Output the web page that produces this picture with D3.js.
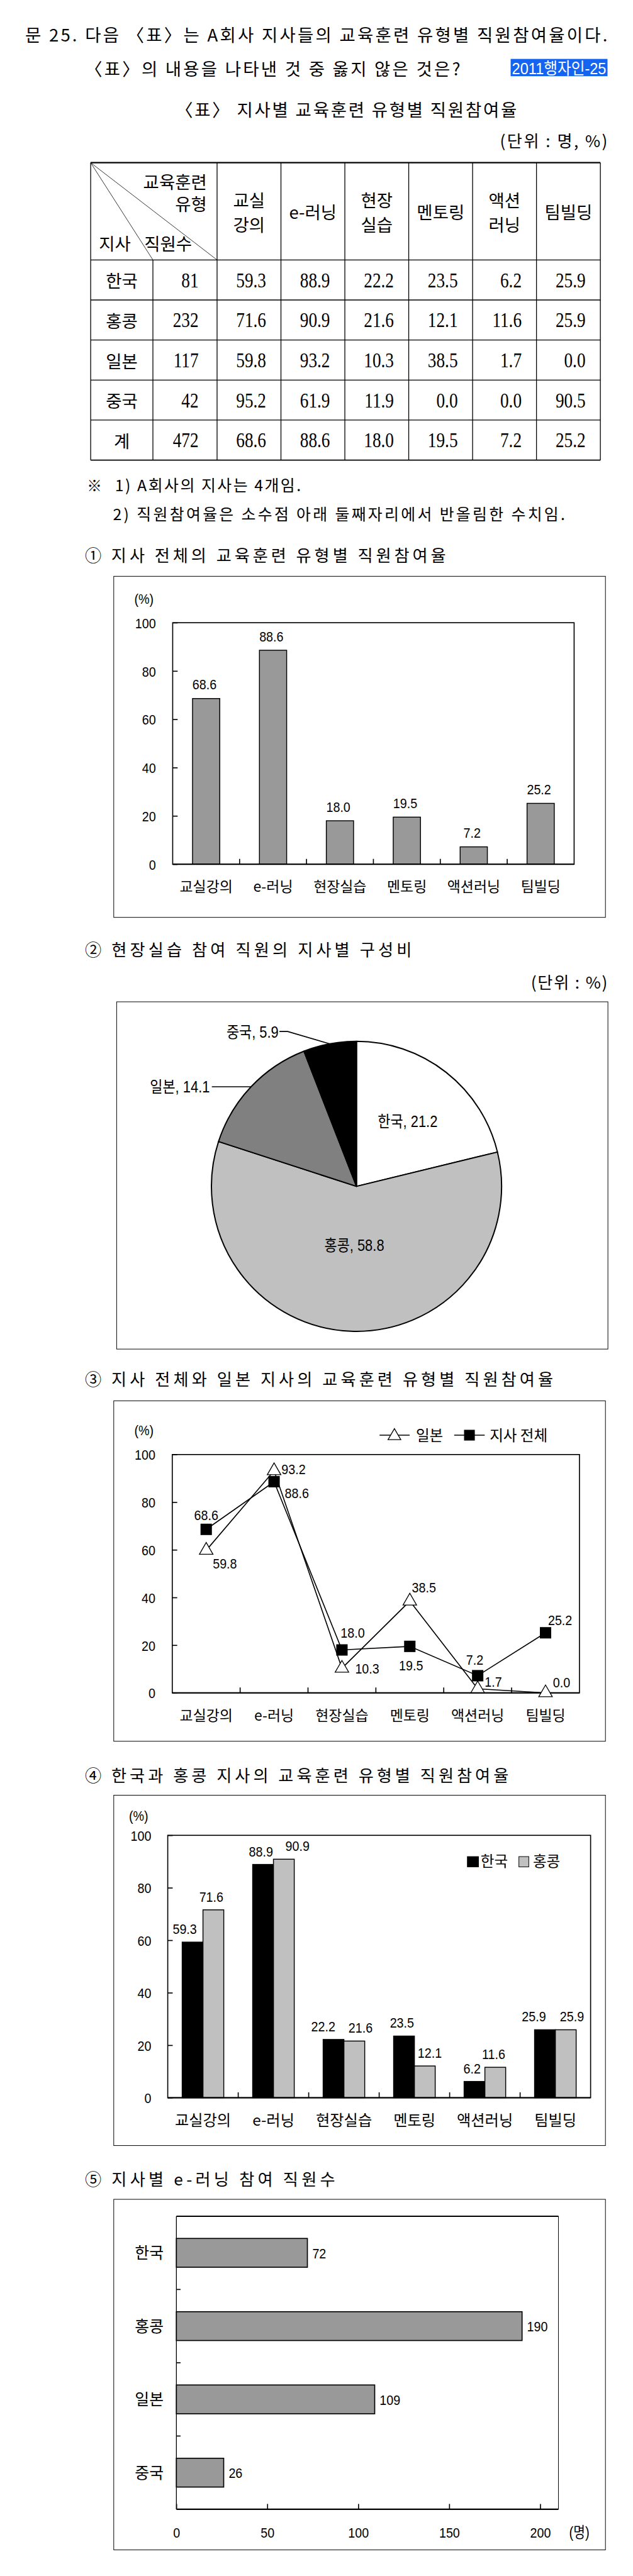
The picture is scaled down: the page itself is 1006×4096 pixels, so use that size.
<!DOCTYPE html>
<html><head><meta charset="utf-8">
<script src="https://cdn.jsdelivr.net/npm/d3@7"></script>
<style>html,body{margin:0;padding:0;background:#fff}svg{display:block}</style>
</head><body>
<script>
// ---------------- DATA ----------------
const types = ["교실강의","e-러닝","현장실습","멘토링","액션러닝","팀빌딩"];
const typeHeaders = [["교실","강의"],["e-러닝"],["현장","실습"],["멘토링"],["액션","러닝"],["팀빌딩"]];
const branches = ["한국","홍콩","일본","중국"];
const staffCounts = [81,232,117,42];
const rateKorea = [59.3,88.9,22.2,23.5,6.2,25.9];
const rateHongKong = [71.6,90.9,21.6,12.1,11.6,25.9];
const rateJapan = [59.8,93.2,10.3,38.5,1.7,0.0];
const rateChina = [95.2,61.9,11.9,0.0,0.0,90.5];
const totalLabel = "계";
const staffTotal = 472;
const rateTotal = [68.6,88.6,18.0,19.5,7.2,25.2];
const fieldShare = [21.2,58.8,14.1,5.9];          // 현장실습 참여 직원 지사별 구성비
const eLearningCounts = [72,190,109,26];          // 지사별 e-러닝 참여 직원수
const pctTicks = [0,20,40,60,80,100];
const countTicks = [0,50,100,150,200];

// ---------------- LAYOUT ----------------
const S = 0.655;
const KR = '"Noto Sans CJK KR", sans-serif';
const SERIF = '"Liberation Serif", "Noto Sans CJK KR", serif';
const SANS = '"Liberation Sans", "Noto Sans CJK KR", sans-serif';

const svg = d3.select("body").append("svg").attr("width",1006).attr("height",4096);
const root = svg.append("g").attr("transform",`scale(${S})`);

function txt(p, x, y, s, o={}) {
  const sx = o.sx || 1;
  const t = p.append("text")
    .attr("transform", `translate(${x},${y})` + (sx!==1 ? ` scale(${sx},1)` : ""))
    .attr("font-family", o.family || KR)
    .attr("font-size", o.size || 36)
    .attr("text-anchor", o.anchor || "start")
    .attr("fill", o.fill || "#000")
    .text(s);
  if (o.weight) t.attr("font-weight", o.weight);
  if (o.len) t.attr("textLength", o.len/sx).attr("lengthAdjust", o.adjust || "spacing");
  return t;
}
function line(p, x1, y1, x2, y2, w) {
  return p.append("line").attr("x1",x1).attr("y1",y1).attr("x2",x2).attr("y2",y2)
    .attr("stroke","#000").attr("stroke-width",w||2);
}
function box(p, x, y, w, h, sw) {
  return p.append("rect").attr("x",x).attr("y",y).attr("width",w).attr("height",h)
    .attr("fill","none").attr("stroke","#000").attr("stroke-width",sw||1.5);
}
function yAxisPct(g, scale, x0, pad, size, sx) {
  const ax = g.append("g").attr("transform",`translate(${x0},0)`)
    .call(d3.axisLeft(scale).tickValues(pctTicks).tickSizeInner(-12).tickSizeOuter(0).tickPadding(pad));
  ax.select(".domain").remove();
  ax.selectAll("line").attr("stroke","#000").attr("stroke-width",2.5);
  ax.selectAll("text").attr("font-family",SANS).attr("font-size",size).attr("fill","#000")
    .attr("transform",`scale(${sx},1)`).attr("x",-pad/sx).attr("dy","0.36em");
  return ax;
}
function xAxisCat(g, scale, y0, labelY, size) {
  const ax = g.append("g").attr("transform",`translate(0,${y0})`)
    .call(d3.axisBottom(scale).tickSizeInner(0).tickSizeOuter(0));
  ax.select(".domain").remove();
  ax.selectAll("text").attr("font-family",KR).attr("font-size",size).attr("fill","#000")
    .attr("y",labelY).attr("dy",null);
  // boundary ticks between categories
  const step = scale.step(), pi = scale.paddingInner();
  scale.domain().slice(1).forEach(d => {
    const bx = scale(d) - step*pi/2;
    line(g, bx, y0, bx, y0-13, 2.5);
  });
  return ax;
}

// ---------------- HEADER ----------------
txt(root, 61, 100, "문 25. 다음 〈표〉는 A회사 지사들의 교육훈련 유형별 직원참여율이다.", {size:42, len:1413});
txt(root, 206, 183, "〈표〉의 내용을 나타낸 것 중 옳지 않은 것은?", {size:42, len:911});
root.append("rect").attr("x",1239).attr("y",143).attr("width",235).attr("height",42).attr("fill","#1464f0");
txt(root, 1242, 180, "2011행자인-25", {size:40, fill:"#fff", family:SANS, len:229, adjust:"spacingAndGlyphs"});
txt(root, 426, 283, "〈표〉 지사별 교육훈련 유형별 직원참여율", {size:42, len:828});
txt(root, 1474, 358, "(단위 : 명, %)", {size:40, anchor:"end", len:261});

// ---------------- TABLE ----------------
const tbl = root.append("g");
const tLeft = 220, tSub = 371, tData0 = 526.7, colW = 155;
const tTop = 395, tHead = 631, rowH = 97.2;
const tRight = tData0 + colW*types.length;
const rows = branches.map((b,i)=>({name:b, staff:staffCounts[i], rates:[rateKorea,rateHongKong,rateJapan,rateChina][i]}))
  .concat([{name:totalLabel, staff:staffTotal, rates:rateTotal}]);
const tBottom = tHead + rowH*rows.length;
// horizontal lines
line(tbl, tLeft, tTop, tRight, tTop, 3.5);
rows.forEach((r,i)=>{ line(tbl, tLeft, tHead+rowH*i, tRight, tHead+rowH*i, 2); });
line(tbl, tLeft, tBottom, tRight, tBottom, 3);
// vertical lines
line(tbl, tLeft, tTop, tLeft, tBottom, 2);
line(tbl, tSub, tHead, tSub, tBottom, 2);
for (let k=0;k<=types.length;k++) line(tbl, tData0+colW*k, tTop, tData0+colW*k, tBottom, 2);
// diagonals
line(tbl, tLeft, tTop, tSub, tHead, 1.2);
line(tbl, tLeft, tTop, tData0, tHead, 1.2);
txt(tbl, 502, 458, "교육훈련", {size:42, anchor:"end"});
txt(tbl, 502, 511, "유형", {size:42, anchor:"end"});
txt(tbl, 240, 608, "지사", {size:42});
txt(tbl, 350, 608, "직원수", {size:42});
typeHeaders.forEach((h,k)=>{
  const cx = tData0 + colW*k + colW/2;
  if (h.length===2) { txt(tbl, cx, 503, h[0], {size:42, anchor:"middle"}); txt(tbl, cx, 562, h[1], {size:42, anchor:"middle"}); }
  else txt(tbl, cx, 532, h[0], {size:42, anchor:"middle", family: SERIF.replace('"Liberation Serif", ','') });
});
rows.forEach((r,i)=>{
  const by = tHead + rowH*i + 66;
  txt(tbl, (tLeft+tSub)/2, by+1, r.name, {size:42, anchor:"middle"});
  txt(tbl, tData0-45, by, String(r.staff), {size:52, anchor:"end", family:SERIF, sx:0.8});
  r.rates.forEach((v,k)=>{
    txt(tbl, tData0+colW*(k+1)-36, by, v.toFixed(1), {size:52, anchor:"end", family:SERIF, sx:0.8});
  });
});

// notes
txt(root, 211, 1193, "※", {size:36});
txt(root, 279, 1193, "1) A회사의 지사는 4개임.", {size:38, len:451});
txt(root, 274, 1262, "2) 직원참여율은 소수점 아래 둘째자리에서 반올림한 수치임.", {size:38, len:1097});

// ---------------- CHART 1 ----------------
txt(root, 206, 1363, "① 지사 전체의 교육훈련 유형별 직원참여율", {size:40, len:876});
{
  const g = root.append("g");
  box(g, 276, 1399, 1193, 828, 1.5);
  const x = d3.scaleBand().domain(types).range([419,1393]).paddingInner(0.593).paddingOuter(0.2966);
  const y = d3.scaleLinear().domain([0,100]).range([2098,1511.7]);
  g.selectAll("rect.bar").data(rateTotal).join("rect").attr("class","bar")
    .attr("x",(d,i)=>x(types[i])).attr("y",d=>y(d)).attr("width",x.bandwidth()).attr("height",d=>y(0)-y(d))
    .attr("fill","#999999").attr("stroke","#000").attr("stroke-width",2.2);
  g.append("rect").attr("x",419).attr("y",y(100)).attr("width",1393-419).attr("height",y(0)-y(100))
    .attr("fill","none").attr("stroke","#000").attr("stroke-width",2.5);
  line(g, 419, y(0), 1393, y(0), 3);
  yAxisPct(g, y, 419, 41, 35, 0.86);
  xAxisCat(g, x, y(0), 67, 35);
  rateTotal.forEach((v,i)=>{
    txt(g, x(types[i])+x.bandwidth()/2-4, y(v)-22, v.toFixed(1), {size:35, anchor:"middle", family:SANS, sx:0.86});
  });
  txt(g, 326, 1466, "(%)", {size:35, family:SANS, sx:0.86});
}

// ---------------- CHART 2 (pie) ----------------
txt(root, 206, 2320, "② 현장실습 참여 직원의 지사별 구성비", {size:40, len:793});
txt(root, 1474, 2400, "(단위 : %)", {size:40, anchor:"end", len:186});
{
  const g = root.append("g");
  box(g, 283, 2432, 1192, 843, 1.5);
  const R = 352, cx = 865, cy = 2880;
  const pg = g.append("g").attr("transform",`translate(${cx},${cy})`);
  const pieColors = ["#ffffff","#c0c0c0","#808080","#000000"];
  const arcs = d3.pie().sort(null).value(d=>d)(fieldShare);
  const arc = d3.arc().innerRadius(0).outerRadius(R);
  pg.selectAll("path.slice").data(arcs).join("path").attr("class","slice")
    .attr("d",arc).attr("fill",(d,i)=>pieColors[i]).attr("stroke","#000").attr("stroke-width",3).attr("stroke-linejoin","round");
  const labOpt = {size:38, family:SANS, sx:0.88};
  // inside labels
  const insideK = [0.57, 0.41];
  [0,1].forEach(i=>{
    const la = d3.arc().innerRadius(R*insideK[i]).outerRadius(R*insideK[i]);
    const [lx,ly] = la.centroid(arcs[i]);
    txt(pg, lx, ly+13, `${branches[i]}, ${fieldShare[i].toFixed(1)}`, Object.assign({anchor:"middle"},labOpt));
  });
  // outside labels with leaders
  const edge = d3.arc().innerRadius(R).outerRadius(R);
  const outside = [{i:2, elbow:[-351,null], end:[-351,null], tx:-356, dy:14},
                   {i:3, elbow:[-167,-376], end:[-187,-376], tx:-189, dy:15}];
  outside.forEach(o=>{
    const [ex,ey] = edge.centroid(arcs[o.i]);
    const el = [o.elbow[0], o.elbow[1]===null?ey:o.elbow[1]];
    const en = [o.end[0], o.end[1]===null?ey:o.end[1]];
    pg.append("path").attr("d",`M${ex},${ey}L${el[0]},${el[1]}L${en[0]},${en[1]}`)
      .attr("fill","none").attr("stroke","#000").attr("stroke-width",2.5);
    txt(pg, o.tx, en[1]+o.dy, `${branches[o.i]}, ${fieldShare[o.i].toFixed(1)}`, Object.assign({anchor:"end"},labOpt));
  });
}

// ---------------- CHART 3 (line) ----------------
txt(root, 206, 3363, "③ 지사 전체와 일본 지사의 교육훈련 유형별 직원참여율", {size:40, len:1136});
{
  const g = root.append("g");
  box(g, 276, 3400.6, 1193, 826.4, 1.5);
  const x = d3.scaleBand().domain(types).range([418,1406]);
  const cxOf = i => x(types[i]) + x.bandwidth()/2;
  const y = d3.scaleLinear().domain([0,100]).range([4109.5,3531]);
  g.append("rect").attr("x",418).attr("y",y(100)).attr("width",1406-418).attr("height",y(0)-y(100))
    .attr("fill","none").attr("stroke","#000").attr("stroke-width",2.5);
  line(g, 418, y(0), 1406, y(0), 3);
  yAxisPct(g, y, 418, 41, 35, 0.86);
  xAxisCat(g, x, y(0), 68, 35);
  const ln = d3.line().x((d,i)=>cxOf(i)).y(d=>y(d));
  g.append("path").attr("d",ln(rateJapan)).attr("fill","none").attr("stroke","#000").attr("stroke-width",2.5);
  g.append("path").attr("d",ln(rateTotal)).attr("fill","none").attr("stroke","#000").attr("stroke-width",2.5);
  const tri = d3.symbol(d3.symbolTriangle, 470)();
  const sq = d3.symbol(d3.symbolSquare, 760)();
  g.selectAll("path.jp").data(rateJapan).join("path").attr("class","jp").attr("d",tri)
    .attr("transform",(d,i)=>`translate(${cxOf(i)},${y(d)})`).attr("fill","#fff").attr("stroke","#000").attr("stroke-width",2);
  g.selectAll("path.tot").data(rateTotal).join("path").attr("class","tot").attr("d",sq)
    .attr("transform",(d,i)=>`translate(${cxOf(i)},${y(d)})`).attr("fill","#000");
  const jpLab = [[16,44,"start"],[18,8,"start"],[32,13,"start"],[5,-21,"start"],[17,-5,"start"],[18,-14,"start"]];
  const totLab = [[0,-23,"middle"],[26,39,"start"],[26,-30,"middle"],[3,58,"middle"],[-7,-27,"middle"],[6,-18,"start"]];
  rateJapan.forEach((v,i)=>txt(g, cxOf(i)+jpLab[i][0], y(v)+jpLab[i][1], v.toFixed(1), {size:35, family:SANS, sx:0.86, anchor:jpLab[i][2]}));
  rateTotal.forEach((v,i)=>txt(g, cxOf(i)+totLab[i][0], y(v)+totLab[i][1], v.toFixed(1), {size:35, family:SANS, sx:0.86, anchor:totLab[i][2]}));
  txt(g, 326, 3484, "(%)", {size:35, family:SANS, sx:0.86});
  // legend
  line(g, 921, 3484, 994, 3484, 2.5);
  g.append("path").attr("d",d3.symbol(d3.symbolTriangle, 420)()).attr("transform","translate(957,3486)")
    .attr("fill","#fff").attr("stroke","#000").attr("stroke-width",2);
  txt(g, 1009, 3497, "일본", {size:36});
  line(g, 1102, 3484, 1176, 3484, 2.5);
  g.append("path").attr("d",d3.symbol(d3.symbolSquare, 680)()).attr("transform","translate(1139,3484)").attr("fill","#000");
  txt(g, 1188, 3497, "지사 전체", {size:36});
}

// ---------------- CHART 4 (grouped bars) ----------------
txt(root, 206, 4325, "④ 한국과 홍콩 지사의 교육훈련 유형별 직원참여율", {size:40, len:1028});
{
  const g = root.append("g");
  box(g, 276, 4358, 1193, 850.5, 1.5);
  const series = [{name:branches[0], vals:rateKorea, fill:"#000000"},{name:branches[1], vals:rateHongKong, fill:"#c0c0c0"}];
  const x = d3.scaleBand().domain(types).range([407,1433]).paddingInner(0.41).paddingOuter(0.205);
  const x1 = d3.scaleBand().domain(series.map(s=>s.name)).range([0,x.bandwidth()]);
  const y = d3.scaleLinear().domain([0,100]).range([5092.4,4455.4]);
  series.forEach(s=>{
    g.selectAll(null).data(s.vals).join("rect")
      .attr("x",(d,i)=>x(types[i])+x1(s.name)).attr("y",d=>y(d)).attr("width",x1.bandwidth()).attr("height",d=>y(0)-y(d))
      .attr("fill",s.fill).attr("stroke","#000").attr("stroke-width",2.2);
  });
  g.append("rect").attr("x",407).attr("y",y(100)).attr("width",1433-407).attr("height",y(0)-y(100))
    .attr("fill","none").attr("stroke","#000").attr("stroke-width",2.5);
  line(g, 407, y(0), 1433, y(0), 3);
  yAxisPct(g, y, 407, 40, 35, 0.86);
  xAxisCat(g, x, y(0), 68, 37);
  const labDx = [[-19,-5,-25,-5,-6,-27],[-5,33,15,12,-4,15]];
  series.forEach((s,si)=>{
    s.vals.forEach((v,i)=>{
      txt(g, x(types[i])+x1(s.name)+x1.bandwidth()/2+labDx[si][i], y(v)-20, v.toFixed(1), {size:35, family:SANS, sx:0.86, anchor:"middle"});
    });
  });
  txt(g, 313, 4420, "(%)", {size:35, family:SANS, sx:0.86});
  // legend
  g.append("rect").attr("x",1134).attr("y",4507).attr("width",27).attr("height",25).attr("fill","#000").attr("stroke","#000").attr("stroke-width",1.5);
  txt(g, 1166, 4532, branches[0], {size:36});
  g.append("rect").attr("x",1259).attr("y",4507).attr("width",24).attr("height",25).attr("fill","#c0c0c0").attr("stroke","#000").attr("stroke-width",1.5);
  txt(g, 1293, 4532, branches[1], {size:36});
}

// ---------------- CHART 5 (horizontal bars) ----------------
txt(root, 206, 5305, "⑤ 지사별 e-러닝 참여 직원수", {size:40, len:607});
{
  const g = root.append("g");
  box(g, 276, 5339, 1193, 851, 1.5);
  const x = d3.scaleLinear().domain([0,210]).range([428,1355]);
  const y = d3.scaleBand().domain(branches).range([5380,6091.5]).paddingInner(0.607).paddingOuter(0.3035);
  g.selectAll("rect.hb").data(eLearningCounts).join("rect").attr("class","hb")
    .attr("x",x(0)).attr("y",(d,i)=>y(branches[i])).attr("width",d=>x(d)-x(0)).attr("height",y.bandwidth())
    .attr("fill","#999999").attr("stroke","#000").attr("stroke-width",2.5);
  // frame
  line(g, 428, 5380, 1355, 5380, 3);
  line(g, 1355, 5380, 1355, 6091.5, 1.5);
  line(g, 428, 5380, 428, 6091.5, 2);
  line(g, 428, 6091.5, 1355, 6091.5, 3.5);
  const xa = g.append("g").attr("transform","translate(0,6091.5)")
    .call(d3.axisBottom(x).tickValues(countTicks).tickSizeInner(-13).tickSizeOuter(0));
  xa.select(".domain").remove();
  xa.selectAll("line").attr("stroke","#000").attr("stroke-width",2.5);
  xa.selectAll("text").attr("font-family",SANS).attr("font-size",35).attr("fill","#000")
    .attr("y",null).attr("dy",null).attr("transform","translate(0,68.5) scale(0.86,1)");
  const ya = g.append("g").attr("transform","translate(428,0)")
    .call(d3.axisLeft(y).tickSizeInner(0).tickSizeOuter(0).tickPadding(31));
  ya.select(".domain").remove();
  ya.selectAll("text").attr("font-family",KR).attr("font-size",38).attr("fill","#000").attr("dy","0.36em");
  const step = y.step(), pi = y.paddingInner();
  branches.slice(1).forEach(b=>{ const by = y(b) - step*pi/2; line(g, 428, by, 438, by, 2.5); });
  eLearningCounts.forEach((v,i)=>{
    txt(g, x(v)+12, y(branches[i])+y.bandwidth()/2+13, String(v), {size:35, family:SANS, sx:0.86});
  });
  txt(g, 1381, 6160, "(명)", {size:36, family:SANS, sx:0.86});
}
</script>
</body></html>
